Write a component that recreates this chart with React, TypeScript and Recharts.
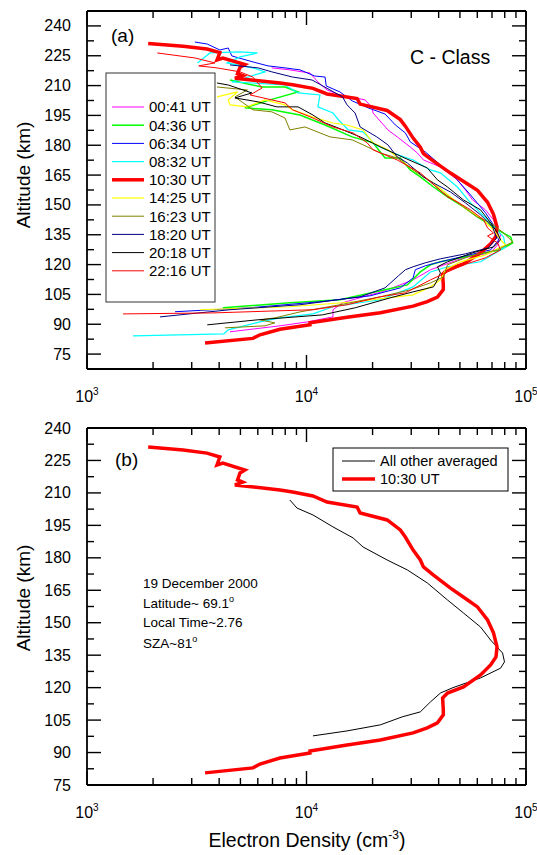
import React from 'react';
import { ScatterChart, Scatter, XAxis, YAxis } from 'recharts';

const FONT = '"Liberation Sans", Arial, Helvetica, sans-serif';

// x ticks (log axis), minor + decades
const xTicks = [1000, 2000, 3000, 4000, 5000, 6000, 7000, 8000, 9000, 10000, 20000, 30000, 40000, 50000, 60000, 70000, 80000, 90000, 100000];
const yTicks = [75, 82.5, 90, 97.5, 105, 112.5, 120, 127.5, 135, 142.5, 150, 157.5, 165, 172.5, 180, 187.5, 195, 202.5, 210, 217.5, 225, 232.5, 240];
const domainA = [67.5, 247.5];
const domainB = [75, 240];

// [electron density cm^-3, altitude km]
const t0041 = [[6950,218.9],[8400,217.9],[10375,216.3],[11270,211.8],[12400,207.8],[14200,205.3],[16650,203.8],[18500,202.8],[19900,198.8],[20100,196.2],[23500,187.7],[25900,184.2],[29700,179.1],[32000,176.1],[34100,172.6],[40750,169.1],[48700,162.6],[53000,157.5],[57100,152.5],[65400,147.5],[71100,142.5],[76600,134.9],[74200,129.9],[69000,125.9],[51900,123.4],[36700,117.4],[30600,112.3],[22100,106.3],[19500,104.8],[14600,100.8],[13200,97.3],[13200,93.7],[10100,91.2],[7570,89.2],[4480,86.2]];
const t0436 = [[4480,212.8],[6280,209.3],[7980,209.3],[9150,206.8],[6820,202.8],[5240,198.8],[6950,197.8],[9340,195.2],[12150,190.2],[16150,184.2],[20100,181.2],[22800,173.6],[26750,173.6],[29700,167.6],[33000,164.1],[37900,159.0],[43900,154.0],[51900,149.0],[60100,144.0],[74200,137.4],[85100,133.9],[87000,130.9],[76600,127.4],[55900,124.4],[40750,121.4],[36700,119.9],[33000,116.3],[28800,109.8],[22800,107.3],[14200,102.3],[8400,100.8],[4160,98.3]];
const t0634 = [[3100,231.9],[3530,230.9],[4030,227.9],[4400,228.9],[4570,224.9],[5700,221.9],[6680,219.9],[7980,218.9],[9340,217.9],[10900,214.8],[12150,214.3],[12300,209.8],[14200,206.8],[16150,202.3],[19100,198.8],[22800,195.7],[25400,190.2],[28200,186.2],[29700,181.7],[34800,176.6],[40750,170.1],[47700,163.6],[55900,155.0],[65400,146.0],[72700,138.4],[75000,132.4],[69000,127.4],[53000,124.4],[40750,121.4],[34800,119.4],[31300,117.4],[30600,113.3],[26750,108.3],[19500,104.3],[11500,101.3],[5530,98.3],[2520,96.3]];
const t0832 = [[3190,221.4],[3630,226.4],[4980,226.9],[5980,226.4],[4980,224.4],[4350,221.4],[5700,218.9],[6470,216.9],[5240,213.8],[4570,211.8],[5700,211.3],[7980,210.3],[9150,206.3],[11520,205.3],[11270,199.3],[13200,196.2],[14000,192.7],[15500,187.7],[18100,186.7],[20600,180.2],[24800,176.1],[30600,172.6],[36700,167.6],[40750,166.1],[48700,159.0],[55900,151.0],[69000,141.0],[79000,133.9],[80750,128.9],[62100,121.4],[44000,118.9],[36700,116.3],[30600,108.8],[21700,102.3],[13200,98.8],[10700,95.2],[7570,93.2],[6140,91.2],[4400,87.2],[4200,85.2],[1620,84.2]];
const t1030 = [[1900,231.2],[2740,229.8],[3520,228.4],[4030,226.6],[3910,222.9],[4160,223.8],[5240,220.6],[4980,219.2],[4850,216.0],[5120,215.0],[4720,213.7],[7570,211.3],[8650,210.4],[10700,208.6],[12400,205.8],[17000,203.5],[17550,200.7],[23300,197.5],[26750,192.9],[28200,189.6],[30600,183.6],[33000,179.0],[34100,175.8],[37900,172.0],[45300,166.0],[54200,160.5],[60100,157.3],[66800,151.3],[71100,145.3],[73800,138.8],[73000,134.2],[69000,130.5],[62100,125.9],[51900,120.3],[43900,117.5],[41700,115.2],[42000,109.7],[42000,107.4],[39500,103.7],[35500,101.4],[30600,99.1],[21700,95.8],[15300,93.5],[10375,90.7],[10375,89.8],[7570,87.5],[6140,84.7],[5700,82.9],[3450,80.6]];
const t1425 = [[3910,204.3],[4850,206.8],[4400,202.8],[4480,200.3],[5380,199.3],[6470,202.8],[7980,200.3],[8650,197.8],[10700,194.2],[13200,191.2],[15300,190.2],[18100,187.7],[20100,181.2],[23500,177.7],[25900,174.1],[30600,167.6],[37900,161.0],[45300,154.0],[54200,147.5],[64100,142.5],[71100,137.4],[76600,132.4],[80750,129.9],[65400,124.9],[50300,121.4],[42950,117.4],[40750,112.3],[36700,108.8],[30600,104.8],[16700,101.3],[8400,98.8],[3270,97.3]];
const t1623 = [[3910,209.3],[5380,207.8],[4720,204.3],[5700,197.8],[6950,196.8],[7980,193.7],[8400,187.7],[9840,189.2],[12800,184.2],[16150,182.7],[18100,180.2],[21700,176.1],[25900,173.6],[30600,167.6],[36700,161.6],[42100,156.0],[51900,149.0],[60100,143.9],[69000,141.0],[79000,135.9],[87000,131.4],[74200,127.4],[55900,124.4],[43900,119.9],[42100,113.8],[36700,110.8],[29700,107.3],[21700,103.8],[14200,99.8],[9340,96.2],[7180,93.2],[6140,92.2],[7180,90.7],[6470,89.2],[4250,88.2]];
const t1820 = [[4480,220.4],[6020,218.9],[6950,216.9],[8630,214.3],[10600,212.8],[12800,207.8],[14600,204.3],[15300,200.3],[16650,196.2],[17550,189.2],[20900,184.2],[23500,180.2],[25900,174.1],[28800,171.1],[34100,164.1],[37900,161.0],[45300,156.5],[53000,151.0],[62100,145.0],[70400,139.0],[73500,133.4],[67400,128.4],[53000,125.4],[40750,122.9],[34800,120.9],[30600,118.9],[28200,117.4],[26200,114.3],[22800,108.3],[17550,103.8],[9340,99.8],[4480,97.3],[2150,93.7]];
const t2018 = [[3910,211.3],[4400,210.3],[5640,206.3],[4720,203.8],[6020,201.8],[7330,199.3],[9150,199.3],[10700,195.2],[12150,191.2],[13930,188.7],[17550,184.2],[21700,179.2],[27300,174.1],[35500,168.6],[39500,162.6],[43900,159.0],[51900,152.5],[62100,147.5],[69000,141.0],[74200,135.9],[76600,132.4],[71100,128.9],[57100,125.9],[43900,121.4],[39500,118.9],[40750,115.8],[39500,112.3],[37900,108.8],[30600,106.3],[24100,103.3],[16700,98.3],[11800,94.7],[5950,92.2],[3530,89.7]];
const t2216 = [[2090,226.4],[3100,223.9],[3830,221.4],[3230,219.9],[3910,218.9],[4980,216.9],[5700,214.3],[6280,208.8],[5530,205.3],[6950,202.8],[7980,201.3],[8650,197.8],[10700,193.7],[13200,189.2],[16300,186.2],[18900,181.2],[20100,177.7],[25900,172.6],[33000,166.1],[36700,161.6],[43900,154.0],[48700,151.5],[55900,147.5],[64100,142.5],[66800,138.4],[71100,135.9],[66800,134.4],[74200,130.9],[76600,127.4],[65400,123.4],[52000,119.9],[42950,115.8],[36700,112.3],[28200,105.8],[21700,103.8],[15300,99.8],[10700,97.3],[3750,95.7],[1460,95.2]];
const avgOthers = [[8400,206.7],[9050,203.0],[10700,199.8],[13200,194.3],[16300,189.2],[18100,185.0],[23300,179.0],[28800,174.4],[35500,168.4],[43900,160.5],[51900,154.5],[62100,148.0],[69000,142.0],[78200,136.0],[79800,131.9],[76600,129.0],[62100,124.5],[46500,120.0],[40750,117.5],[36700,113.4],[33000,108.8],[27300,106.5],[21700,102.8],[15300,100.0],[10700,97.7]];

const seriesA = [
  { name: '00:41 UT', color: '#ff00ff', width: 1, data: t0041 },
  { name: '04:36 UT', color: '#00ff00', width: 1.5, data: t0436 },
  { name: '06:34 UT', color: '#0000ff', width: 1, data: t0634 },
  { name: '08:32 UT', color: '#00ffff', width: 1.2, data: t0832 },
  { name: '10:30 UT', color: '#ff0000', width: 3.5, data: t1030 },
  { name: '14:25 UT', color: '#ffff00', width: 1.2, data: t1425 },
  { name: '16:23 UT', color: '#808000', width: 1, data: t1623 },
  { name: '18:20 UT', color: '#000080', width: 1, data: t1820 },
  { name: '20:18 UT', color: '#000000', width: 1, data: t2018 },
  { name: '22:16 UT', color: '#ff0000', width: 1, data: t2216 },
];
const seriesB = [
  { name: 'All other averaged', color: '#000000', width: 1, data: avgOthers },
  { name: '10:30 UT', color: '#ff0000', width: 3.5, data: t1030 },
];

const toPts = (arr: number[][]) => arr.map(([n, alt]) => ({ n, alt }));

const isDecade = (v: number) => Math.abs(Math.log10(v) - Math.round(Math.log10(v))) < 1e-9;
const TICK = { stroke: '#000', strokeWidth: 1.4 };
const AXIS = { stroke: '#000', strokeWidth: 1.8 };

// axes draw their ticks inward, like the original plot
const BottomTick = (p: any) => {
  const { x, y, payload } = p;
  const major = isDecade(payload.value);
  return (
    <g>
      <line x1={x} y1={y} x2={x} y2={y - (major ? 14 : 7)} {...TICK} />
      {major && (
        <text x={x} y={y + 33} textAnchor="middle" fontSize={16} fontFamily={FONT} fill="#000">
          10<tspan dy={-7} fontSize={10}>{Math.round(Math.log10(payload.value))}</tspan>
        </text>
      )}
    </g>
  );
};
const TopTick = (p: any) => {
  const { x, y, payload } = p;
  const major = isDecade(payload.value);
  return <line x1={x} y1={y} x2={x} y2={y + (major ? 14 : 7)} {...TICK} />;
};
const LeftTick = (p: any) => {
  const { x, y, payload } = p;
  const major = payload.value % 15 === 0;
  return (
    <g>
      <line x1={x} y1={y} x2={x + (major ? 14 : 7)} y2={y} {...TICK} />
      {major && (
        <text x={x - 16} y={y + 5.5} textAnchor="end" fontSize={16} fontFamily={FONT} fill="#000">
          {payload.value}
        </text>
      )}
    </g>
  );
};
const RightTick = (p: any) => {
  const { x, y, payload } = p;
  const major = payload.value % 15 === 0;
  return <line x1={x} y1={y} x2={x - (major ? 14 : 7)} y2={y} {...TICK} />;
};

const Panel = ({ series, domain, height, bottom }: any) => (
  <ScatterChart width={537} height={height} margin={{ top: 10, right: 10, bottom, left: 86 }}>
    <XAxis type="number" dataKey="n" scale="log" domain={[1000, 100000]} allowDataOverflow ticks={xTicks}
      interval={0} height={1} tickSize={0} tickMargin={0} tickLine={false} axisLine={AXIS} tick={<BottomTick />} />
    <XAxis xAxisId="top" orientation="top" type="number" dataKey="n" scale="log" domain={[1000, 100000]} allowDataOverflow
      ticks={xTicks} interval={0} height={1} tickSize={0} tickMargin={0} tickLine={false} axisLine={AXIS} tick={<TopTick />} />
    <YAxis type="number" dataKey="alt" domain={domain} allowDataOverflow ticks={yTicks} interval={0} width={1}
      tickSize={0} tickMargin={0} tickLine={false} axisLine={AXIS} tick={<LeftTick />} />
    <YAxis yAxisId="right" orientation="right" type="number" dataKey="alt" domain={domain} allowDataOverflow ticks={yTicks}
      interval={0} width={1} tickSize={0} tickMargin={0} tickLine={false} axisLine={AXIS} tick={<RightTick />} />
    {series.map((s: any, i: number) => (
      <Scatter key={i} name={s.name} data={toPts(s.data)} fill={s.color}
        line={{ stroke: s.color, strokeWidth: s.width }} shape={() => <g />}
        legendType="none" isAnimationActive={false} />
    ))}
  </ScatterChart>
);

const txt = { fontFamily: FONT, fill: '#000' };

export default function App() {
  return (
    <div style={{ position: 'absolute', left: 0, top: 0, width: 537, height: 855, background: '#fff' }}>
      <div style={{ position: 'absolute', left: 0, top: 0 }}>
        <Panel series={seriesA} domain={domainA} height={417} bottom={47} />
      </div>
      <div style={{ position: 'absolute', left: 0, top: 417 }}>
        <Panel series={seriesB} domain={domainB} height={438} bottom={69} />
      </div>
      <svg width={537} height={855} style={{ position: 'absolute', left: 0, top: 0, pointerEvents: 'none' }}>
        <text x={111} y={42} fontSize={19} {...txt}>(a)</text>
        <text x={410} y={64} fontSize={19.5} {...txt}>C - Class</text>
        <rect x={106} y={73} width={109} height={229} fill="#fff" stroke="#333" strokeWidth={1} />
        {seriesA.map((s, i) => (
          <g key={i}>
            <line x1={112} x2={144} y1={107 + i * 18.2} y2={107 + i * 18.2} stroke={s.color} strokeWidth={s.width} />
            <text x={149} y={107 + i * 18.2 + 5.4} fontSize={15} {...txt}>{s.name}</text>
          </g>
        ))}
        <text x={30} y={175} fontSize={19} textAnchor="middle" transform="rotate(-90 30 175)" {...txt}>Altitude (km)</text>

        <text x={115} y={466} fontSize={19} {...txt}>(b)</text>
        <rect x={333} y={448} width={175} height={43} fill="#fff" stroke="#000" strokeWidth={1} />
        {seriesB.map((s, i) => (
          <g key={i}>
            <line x1={342} x2={375} y1={461 + i * 18} y2={461 + i * 18} stroke={s.color} strokeWidth={s.width} />
            <text x={380} y={461 + i * 18 + 5.2} fontSize={14.5} {...txt}>{s.name}</text>
          </g>
        ))}
        <text x={143} y={588} fontSize={13.5} {...txt}>19 December 2000</text>
        <text x={143} y={608} fontSize={13.5} {...txt}>Latitude~ 69.1<tspan dy={-6} fontSize={9}>o</tspan></text>
        <text x={143} y={627} fontSize={13.5} {...txt}>Local Time~2.76</text>
        <text x={143} y={648} fontSize={13.5} {...txt}>SZA~81<tspan dy={-6} fontSize={9}>o</tspan></text>
        <text x={30} y={598} fontSize={19} textAnchor="middle" transform="rotate(-90 30 598)" {...txt}>Altitude (km)</text>
        <text x={307} y={847} fontSize={19.5} textAnchor="middle" {...txt}>
          Electron Density (cm<tspan dy={-8} fontSize={12}>-3</tspan><tspan dy={8}>)</tspan>
        </text>
      </svg>
    </div>
  );
}
